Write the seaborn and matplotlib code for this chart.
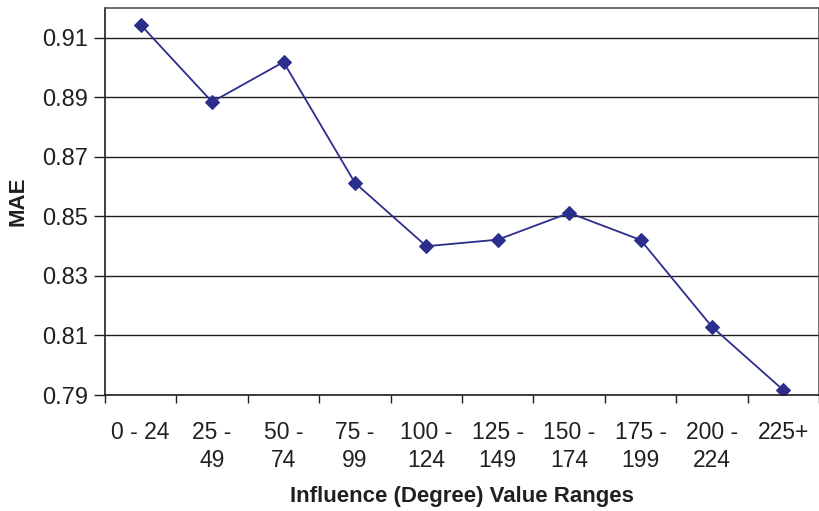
import numpy as np
import pandas as pd
import matplotlib
matplotlib.use("Agg")
import matplotlib.pyplot as plt
import seaborn as sns

# data
ranges = ["0 - 24", "25 -\n49", "50 -\n74", "75 -\n99", "100 -\n124",
          "125 -\n149", "150 -\n174", "175 -\n199", "200 -\n224", "225+"]
mae = [0.9144, 0.8885, 0.9019, 0.8613, 0.8400,
       0.8422, 0.8512, 0.8421, 0.8129, 0.7916]
y_ticks = [0.79, 0.81, 0.83, 0.85, 0.87, 0.89, 0.91]

NAVY = "#2B2E8C"
INK = "#231F20"

sns.set_style("white")
plt.rcParams["font.family"] = ["Liberation Sans", "DejaVu Sans"]

df = pd.DataFrame({"pos": np.arange(len(ranges)), "mae": mae})

fig = plt.figure(figsize=(8.2, 5.11), dpi=100)
ax = fig.add_axes([0.128, 0.227, 0.871, 0.757])

sns.lineplot(data=df, x="pos", y="mae", ax=ax, color=NAVY, linewidth=1.3,
             marker="D", markersize=7, markeredgecolor=NAVY)

ax.set_xlim(-0.5, len(ranges) - 0.5)
ax.set_ylim(0.79, 0.92)
ax.set_yticks(y_ticks)
ax.set_yticklabels([f"{v:.2f}" for v in y_ticks], fontsize=17, color=INK)
ax.yaxis.grid(True, color=INK, linewidth=1.0)
ax.set_axisbelow(True)

# Excel style: tick marks between categories, labels centred
ax.set_xticks(np.arange(len(ranges) + 1) - 0.5)
ax.set_xticklabels([])
ax.set_xticks(np.arange(len(ranges)), minor=True)
ax.set_xticklabels(ranges, minor=True, fontsize=16.5, color=INK,
                   linespacing=1.25, va="top")
ax.tick_params(axis="x", which="major", direction="out", length=6,
               width=1, color=INK, bottom=True)
ax.tick_params(axis="x", which="minor", length=0, pad=19)
ax.tick_params(axis="y", direction="out", length=8, width=1,
               color=INK, left=True, pad=4)

for side in ["left", "bottom", "top", "right"]:
    ax.spines[side].set_visible(True)
    ax.spines[side].set_color(INK)
    ax.spines[side].set_linewidth(1.2)
ax.spines["top"].set_color("#555555")
ax.spines["right"].set_color("#555555")

ax.set_xlabel("Influence (Degree) Value Ranges", fontsize=16,
              fontweight="bold", color=INK, labelpad=10)
ax.set_ylabel("MAE", fontsize=16, fontweight="bold", color=INK,
              labelpad=10)

fig.savefig("out.png", dpi=100)
